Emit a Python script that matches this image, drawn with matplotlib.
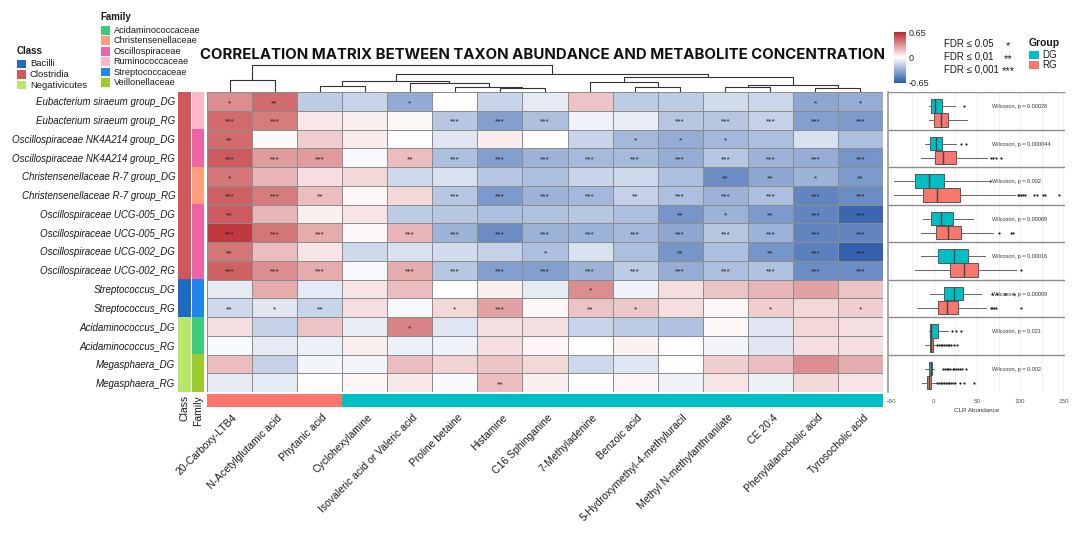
import numpy as np
import matplotlib.pyplot as plt
from matplotlib.colors import LinearSegmentedColormap, to_rgb
from matplotlib.patches import Rectangle

plt.rcParams['font.family'] = ['Liberation Sans', 'DejaVu Sans']

# ---------------- data ----------------
taxa = [
    "Eubacterium siraeum group_DG", "Eubacterium siraeum group_RG",
    "Oscillospiraceae NK4A214 group_DG", "Oscillospiraceae NK4A214 group_RG",
    "Christensenellaceae R-7 group_DG", "Christensenellaceae R-7 group_RG",
    "Oscillospiraceae UCG-005_DG", "Oscillospiraceae UCG-005_RG",
    "Oscillospiraceae UCG-002_DG", "Oscillospiraceae UCG-002_RG",
    "Streptococcus_DG", "Streptococcus_RG",
    "Acidaminococcus_DG", "Acidaminococcus_RG",
    "Megasphaera_DG", "Megasphaera_RG",
]
taxon_class = ["Clostridia", "Clostridia", "Clostridia", "Clostridia", "Clostridia",
               "Clostridia", "Clostridia", "Clostridia", "Clostridia", "Clostridia",
               "Bacilli", "Bacilli", "Negativicutes", "Negativicutes",
               "Negativicutes", "Negativicutes"]
taxon_family = ["Ruminococcaceae", "Ruminococcaceae", "Oscillospiraceae", "Oscillospiraceae",
                "Christensenellaceae", "Christensenellaceae", "Oscillospiraceae",
                "Oscillospiraceae", "Oscillospiraceae", "Oscillospiraceae",
                "Streptococcaceae", "Streptococcaceae", "Acidaminococcaceae",
                "Acidaminococcaceae", "Veillonellaceae", "Veillonellaceae"]

metabolites = ["20-Carboxy-LTB4", "N-Acetylglutamic acid", "Phytanic acid", "Cyclohexylamine",
               "Isovaleric acid or Valeric acid", "Proline betaine", "Histamine",
               "C16 Sphinganine", "7-Methyladenine", "Benzoic acid",
               "5-Hydroxymethyl-4-methyluracil", "Methyl N-methylanthranilate",
               "CE 20:4", "Phenylalanocholic acid", "Tyrosocholic acid"]
metabolite_group = ["RG", "RG", "RG", "DG", "DG", "DG", "DG", "DG", "DG", "DG",
                    "DG", "DG", "DG", "DG", "DG"]

corr = np.array([
    [0.35, 0.45, -0.20, -0.17, -0.33, 0.00, -0.17, -0.08, 0.18, -0.20, -0.20, -0.14, -0.16, -0.35, -0.32],
    [0.45, 0.40, 0.07, 0.05, 0.02, -0.22, -0.38, -0.25, -0.05, -0.07, -0.22, -0.22, -0.18, -0.38, -0.40],
    [0.45, 0.02, 0.15, 0.06, 0.01, -0.10, 0.06, 0.01, -0.17, -0.28, -0.32, -0.28, -0.25, -0.12, -0.25],
    [0.50, 0.30, 0.30, -0.03, 0.20, -0.25, -0.38, -0.30, -0.27, -0.27, -0.32, -0.22, -0.30, -0.32, -0.42],
    [0.42, 0.22, 0.10, 0.12, -0.15, -0.12, -0.22, -0.25, -0.17, -0.15, -0.25, -0.45, -0.35, -0.30, -0.40],
    [0.48, 0.40, 0.20, 0.03, 0.12, -0.22, -0.40, -0.30, -0.28, -0.18, -0.25, -0.30, -0.25, -0.48, -0.45],
    [0.50, 0.22, 0.05, 0.08, -0.20, -0.22, -0.25, -0.24, -0.22, -0.25, -0.42, -0.30, -0.40, -0.48, -0.60],
    [0.60, 0.42, 0.25, 0.02, 0.22, -0.30, -0.45, -0.30, -0.30, -0.28, -0.35, -0.22, -0.30, -0.48, -0.48],
    [0.42, 0.20, 0.08, -0.15, -0.12, -0.14, -0.18, -0.25, -0.12, -0.25, -0.42, -0.25, -0.42, -0.50, -0.62],
    [0.48, 0.35, 0.25, -0.03, 0.25, -0.22, -0.38, -0.38, -0.30, -0.20, -0.32, -0.25, -0.24, -0.45, -0.45],
    [-0.08, 0.25, -0.08, 0.08, 0.20, 0.00, 0.05, -0.08, 0.35, -0.05, 0.10, 0.18, 0.22, 0.28, 0.18],
    [-0.15, -0.10, -0.17, 0.10, -0.03, 0.12, 0.28, 0.03, 0.18, 0.17, 0.10, 0.03, 0.15, 0.12, 0.15],
    [0.10, -0.18, 0.18, -0.07, 0.38, -0.10, 0.10, 0.10, -0.17, -0.20, -0.24, 0.03, -0.10, 0.12, 0.10],
    [-0.02, -0.08, -0.06, 0.05, -0.06, -0.05, 0.10, 0.03, 0.00, 0.04, 0.00, -0.04, -0.10, 0.10, 0.10],
    [0.20, -0.18, -0.04, -0.04, 0.20, 0.13, 0.18, 0.12, -0.15, -0.10, 0.00, 0.15, 0.20, 0.35, 0.25],
    [-0.08, -0.08, 0.00, 0.03, 0.07, -0.02, 0.20, 0.05, 0.00, 0.03, -0.05, 0.08, -0.06, 0.12, 0.08],
])

# number of stars (FDR level) per cell
sig = np.array([
    [1, 2, 0, 0, 1, 0, 0, 0, 0, 0, 0, 0, 0, 1, 1],
    [3, 3, 0, 0, 0, 3, 3, 3, 0, 0, 3, 3, 3, 3, 3],
    [2, 0, 0, 0, 0, 0, 0, 0, 0, 1, 1, 1, 0, 0, 0],
    [3, 3, 3, 0, 2, 3, 3, 3, 3, 3, 3, 3, 3, 3, 3],
    [1, 0, 0, 0, 0, 0, 0, 0, 0, 0, 0, 2, 2, 1, 2],
    [3, 3, 2, 0, 0, 3, 3, 3, 3, 2, 3, 3, 3, 3, 3],
    [2, 0, 0, 0, 0, 0, 0, 0, 0, 0, 2, 1, 2, 3, 3],
    [3, 3, 3, 0, 3, 3, 3, 3, 3, 3, 3, 3, 3, 3, 3],
    [2, 0, 0, 0, 0, 0, 0, 1, 0, 0, 2, 0, 2, 3, 3],
    [3, 3, 3, 0, 3, 3, 3, 3, 3, 3, 3, 3, 3, 3, 3],
    [0, 0, 0, 0, 0, 0, 0, 0, 1, 0, 0, 0, 0, 0, 0],
    [2, 1, 2, 0, 0, 1, 3, 0, 2, 1, 0, 0, 1, 0, 1],
    [0, 0, 0, 0, 1, 0, 0, 0, 0, 0, 0, 0, 0, 0, 0],
    [0, 0, 0, 0, 0, 0, 0, 0, 0, 0, 0, 0, 0, 0, 0],
    [0, 0, 0, 0, 0, 0, 0, 0, 0, 0, 0, 0, 0, 0, 0],
    [0, 0, 0, 0, 0, 0, 2, 0, 0, 0, 0, 0, 0, 0, 0],
])

# column dendrogram: (left, right, height in px above heatmap); leaves 0..14, nodes 15..
col_merges = [(6, 7, 3.8), (5, 15, 5.5), (4, 16, 9.5), (2, 3, 6.0), (18, 17, 11.0),
              (9, 10, 5.5), (8, 20, 10.0), (11, 12, 5.0), (13, 14, 4.0), (22, 23, 7.5),
              (21, 24, 15.0), (19, 25, 18.0), (0, 1, 12.0), (27, 26, 27.5)]

# CLR abundance boxplots, one pair per taxon: (whislo, q1, med, q3, whishi)
box_taxa = ["Eubacterium siraeum group", "Oscillospiraceae NK4A214 group",
            "Christensenellaceae R-7 group", "Oscillospiraceae UCG-005",
            "Oscillospiraceae UCG-002", "Streptococcus", "Acidaminococcus", "Megasphaera"]
dg_box = [(-5, -3.5, 1, 10, 25), (-10, -4, 3, 10, 26), (-46, -22, -5.5, 12, 63),
          (-12, -3.5, 8, 22, 45), (-15, 5, 24, 40, 59), (-4, 12, 24, 34, 55),
          (-5, -4, -3, 5, 17), (-10, -5, -3.5, -1.5, 0)]
rg_box = [(-5, 0, 8, 17, 39), (-15, 1, 11, 26, 62), (-46, -13, 4, 30, 94),
          (-15, 3, 17, 31, 69), (-22, 19, 35, 51, 95), (-19, 5, 15, 28, 61),
          (-10, -4.5, -3, -1, 3), (-14, -8, -5, -3, 3)]
dg_fliers = [[34.5], [32, 37], [65], [], [], [68, 73, 83, 93], [21, 26, 31],
             [11, 13, 15, 17, 19, 22, 24, 26, 28, 30, 33, 37.6]]
rg_fliers = [[], [66, 69, 72, 78], [97, 99, 101, 103, 106, 116, 119, 127, 129, 145],
             [76, 89, 92], [101], [66, 68, 70, 72, 101],
             [4, 6, 8, 10, 12, 14, 16, 18, 20, 23, 27],
             [4, 6, 8, 10, 12, 14, 16, 18, 20, 22, 25, 30, 35, 47]]
wilcoxon_p = ["0.00028", "0.000044", "0.002", "0.00069", "0.00016", "0.00009", "0.021", "0.002"]

class_colors = {"Bacilli": "#1F6BC4", "Clostridia": "#D0575B", "Negativicutes": "#B8E86B"}
family_colors = {"Acidaminococcaceae": "#3DCB7A", "Christensenellaceae": "#FF9E78",
                 "Oscillospiraceae": "#EE64A9", "Ruminococcaceae": "#FFB6C8",
                 "Streptococcaceae": "#1E86EA", "Veillonellaceae": "#9ACC2E"}
group_colors = {"DG": "#00BFC4", "RG": "#F8766D"}

# ---------------- layout helpers ----------------
W, H = 1080, 540
fig = plt.figure(figsize=(W / 100, H / 100), dpi=100)


def px_axes(x0, y0, x1, y1):
    return fig.add_axes([x0 / W, 1 - y1 / H, (x1 - x0) / W, (y1 - y0) / H])


over = px_axes(0, 0, W, H)
over.set_xlim(0, W)
over.set_ylim(H, 0)
over.axis('off')

n_rows, n_cols = corr.shape
HX0, HX1, HY0, HY1 = 207, 883, 92, 392

# ---------------- heatmap ----------------
cmap = LinearSegmentedColormap.from_list("bwr_c", ["#2B5BAA", "#FFFFFF", "#BD2A2E"])
axh = px_axes(HX0, HY0, HX1, HY1)
mesh = axh.pcolormesh(corr, cmap=cmap, vmin=-0.65, vmax=0.65,
                      edgecolors="#8c8c8c", linewidth=0.7)
axh.set_xlim(0, n_cols)
axh.set_ylim(n_rows, 0)
axh.set_xticks([])
axh.set_yticks([])
for s in axh.spines.values():
    s.set_visible(False)
for i in range(n_rows):
    for j in range(n_cols):
        if sig[i, j]:
            axh.text(j + 0.5, i + 0.62, "*" * sig[i, j], ha="center", va="center",
                     fontsize=6, color="#222222")

# ---------------- dendrogram ----------------
axd = px_axes(HX0, 62, HX1, HY0)
xpos = {k: k + 0.5 for k in range(n_cols)}
hpos = {k: 0.0 for k in range(n_cols)}
for k, (a, b, h) in enumerate(col_merges):
    axd.plot([xpos[a], xpos[a], xpos[b], xpos[b]], [hpos[a], h, h, hpos[b]],
             color="#333333", lw=0.8, solid_capstyle="butt")
    xpos[n_cols + k] = (xpos[a] + xpos[b]) / 2
    hpos[n_cols + k] = h
axd.set_xlim(0, n_cols)
axd.set_ylim(0, 30)
axd.axis('off')

# ---------------- row annotations ----------------
axc = px_axes(178, HY0, 191, HY1)
axc.imshow(np.array([to_rgb(class_colors[c]) for c in taxon_class])[:, None, :],
           aspect="auto", extent=(0, 1, n_rows, 0), interpolation="nearest")
axc.set_yticks(np.arange(n_rows) + 0.5)
axc.set_yticklabels(taxa, fontsize=7, style="italic", color="#1a1a1a")
axc.set_xticks([0.5])
axc.set_xticklabels(["Class"], rotation=90, fontsize=7.5, color="#1a1a1a")
axc.tick_params(length=0, pad=2)
for s in axc.spines.values():
    s.set_visible(False)

axf = px_axes(192, HY0, 204, HY1)
axf.imshow(np.array([to_rgb(family_colors[f]) for f in taxon_family])[:, None, :],
           aspect="auto", extent=(0, 1, n_rows, 0), interpolation="nearest")
axf.set_yticks([])
axf.set_xticks([0.5])
axf.set_xticklabels(["Family"], rotation=90, fontsize=7.5, color="#1a1a1a")
axf.tick_params(length=0, pad=2)
for s in axf.spines.values():
    s.set_visible(False)

# ---------------- column annotation ----------------
axg = px_axes(HX0, 394, 885, 407)
axg.imshow(np.array([to_rgb(group_colors[g]) for g in metabolite_group])[None, :, :],
           aspect="auto", extent=(0, n_cols, 1, 0), interpolation="nearest")
axg.set_xlim(0, n_cols * (885 - HX0) / (HX1 - HX0))
axg.set_yticks([])
axg.set_xticks(np.arange(n_cols) + 0.55)
axg.set_xticklabels(metabolites, rotation=45, ha="right", rotation_mode="anchor",
                    fontsize=7.5, color="#1a1a1a")
axg.tick_params(length=0, pad=4)
for s in axg.spines.values():
    s.set_visible(False)

# ---------------- boxplots ----------------
axb = px_axes(888, HY0, 1065, HY1)
stats, positions, colors = [], [], []
for i in range(len(box_taxa)):
    for box, fl, off, g in ((dg_box[i], dg_fliers[i], 0.75, "DG"),
                            (rg_box[i], rg_fliers[i], 1.5, "RG")):
        lo, q1, med, q3, hi = box
        stats.append(dict(whislo=lo, q1=q1, med=med, q3=q3, whishi=hi, fliers=fl))
        positions.append(2 * i + off)
        colors.append(group_colors[g])
bp = axb.bxp(stats, positions=positions, widths=0.72, orientation="horizontal",
             patch_artist=True, showcaps=False,
             boxprops=dict(edgecolor="#555555", linewidth=0.7),
             medianprops=dict(color="#444444", linewidth=1.0),
             whiskerprops=dict(color="#666666", linewidth=0.7),
             flierprops=dict(marker="o", markersize=1.6, markerfacecolor="#222222",
                             markeredgecolor="none"))
for patch, c in zip(bp["boxes"], colors):
    patch.set_facecolor(c)
for i, p in enumerate(wilcoxon_p):
    axb.text(67, 2 * i + 0.78, f"Wilcoxon, p = {p}", fontsize=4, ha="left",
             va="center", color="#333333")
for y in range(0, 2 * len(box_taxa), 2):
    axb.axhline(y, color="#8c8c8c", lw=1.0)
axb.set_xlim(-53, 152)
axb.set_ylim(2 * len(box_taxa), 0)
axb.set_yticks([])
axb.set_xticks([-50, 0, 50, 100, 150])
axb.set_xticks([-25, 25, 75, 125], minor=True)
axb.grid(axis="x", which="both", color="#ebebeb", lw=0.5)
axb.set_axisbelow(True)
axb.tick_params(axis="x", which="both", length=0, labelsize=4.5, labelcolor="#555555", pad=5)
axb.set_xlabel("CLR Abundance", fontsize=4.5, color="#333333", labelpad=3)
for name, s in axb.spines.items():
    s.set_visible(name == "left")
axb.spines["left"].set_color("#9a9a9a")
axb.spines["left"].set_linewidth(1.2)

# ---------------- colorbar ----------------
axcb = px_axes(894, 32, 906, 83)
cb = fig.colorbar(mesh, cax=axcb, ticks=[-0.65, 0, 0.65])
cb.ax.set_yticklabels(["-0.65", "0", "0.65"])
cb.ax.tick_params(labelsize=6.5, length=0, pad=2, colors="#222222")
cb.outline.set_visible(False)

# ---------------- legends ----------------
over.text(17, 51, "Class", fontsize=7, fontweight="bold", va="center", color="#1a1a1a")
for k, name in enumerate(class_colors):
    y = 59.5 + 10.6 * k
    over.add_patch(Rectangle((17, y), 8.7, 8.7, facecolor=class_colors[name], edgecolor="none"))
    over.text(30, y + 4.5, name, fontsize=6.8, va="center", color="#1a1a1a")

over.text(100.7, 17, "Family", fontsize=7, fontweight="bold", va="center", color="#1a1a1a")
for k, name in enumerate(family_colors):
    y = 26 + 10.4 * k
    over.add_patch(Rectangle((100.7, y), 9, 8.7, facecolor=family_colors[name], edgecolor="none"))
    over.text(113.5, y + 4.5, name, fontsize=6.6, va="center", color="#1a1a1a")

fdr_labels = ["FDR ≤ 0.05", "FDR ≤ 0,01", "FDR ≤ 0,001"]
for k, lab in enumerate(fdr_labels):
    y = 44 + 12.7 * k
    over.text(944, y, lab, fontsize=7, va="center", color="#1a1a1a")
    over.text(1008, y + 2, "*" * (k + 1), fontsize=8, ha="center", va="center", color="#1a1a1a")

over.text(1029, 42.7, "Group", fontsize=7.5, fontweight="bold", va="center", color="#1a1a1a")
for k, g in enumerate(["DG", "RG"]):
    y = 50.7 + 10 * k
    over.add_patch(Rectangle((1029, y), 10, 8.6, facecolor=group_colors[g], edgecolor="none"))
    over.text(1042, y + 4.3, g, fontsize=7, va="center", color="#1a1a1a")

over.text(543, 55, "CORRELATION MATRIX BETWEEN TAXON ABUNDANCE AND METABOLITE CONCENTRATION",
          fontsize=10.8, fontweight="bold", family=["Inter", "DejaVu Sans"],
          ha="center", va="center", color="#111111")

fig.savefig("out.png", dpi=100, facecolor="white")
